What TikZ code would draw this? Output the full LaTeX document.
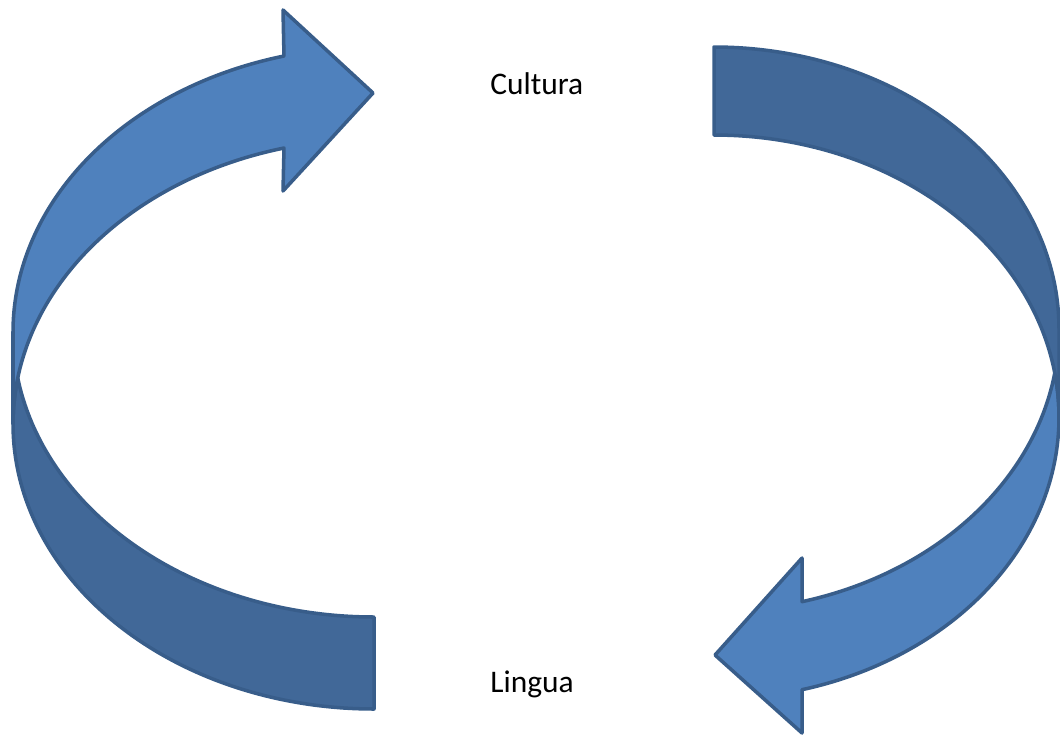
\documentclass[tikz,border=0pt]{standalone}
\usepackage{fontspec}
\setmainfont{Carlito}
\definecolor{lightblue}{HTML}{4F81BD}
\definecolor{darkblue}{HTML}{416898}
\definecolor{edgeblue}{HTML}{385D8A}
\begin{document}
\begin{tikzpicture}[x=0.02cm,y=-0.02cm,
  front/.style={fill=lightblue,draw=edgeblue,line width=2pt,line join=round},
  back/.style={fill=darkblue,draw=edgeblue,line width=2pt,line join=round},
  lbl/.style={anchor=base west,inner sep=0pt,font=\fontsize{17.9pt}{20pt}\selectfont}]
\useasboundingbox (0,0) rectangle (1060,735);
% ---- left arrow: centre x 374, rx 361, ry 285, upper cy 332, lower cy 424
\path[back] plot[domain=189.29:90,samples=60,smooth]
    ({374+361*cos(\x)},{424+285*sin(\x)})
  -- plot[domain=90:170.71,samples=60,smooth]
    ({374+361*cos(\x)},{332+285*sin(\x)}) -- cycle;
\path[front] plot[domain=180:255.56,samples=70,smooth]
    ({374+361*cos(\x)},{332+285*sin(\x)})
  -- (283,10) -- (373,93) -- (283,191)
  -- plot[domain=255.56:180,samples=70,smooth]
    ({374+361*cos(\x)},{424+285*sin(\x)}) -- cycle;
% ---- right arrow: centre x 714, rx 345, ry 282, upper cy 329, lower cy 417
\path[front] plot[domain=-8.97:75.22,samples=70,smooth]
    ({714+345*cos(\x)},{417+282*sin(\x)})
  -- (802,733) -- (715,655) -- (802,558)
  -- plot[domain=75.22:8.97,samples=60,smooth]
    ({714+345*cos(\x)},{329+282*sin(\x)}) -- cycle;
\path[back] plot[domain=270:360,samples=70,smooth]
    ({714+345*cos(\x)},{329+282*sin(\x)})
  -- plot[domain=360:270,samples=70,smooth]
    ({714+345*cos(\x)},{417+282*sin(\x)}) -- cycle;
% ---- labels
\node[lbl] (cultura) at (490,94) {Cultura};
\node[lbl] (lingua) at (490,692) {Lingua};
\end{tikzpicture}
\end{document}
